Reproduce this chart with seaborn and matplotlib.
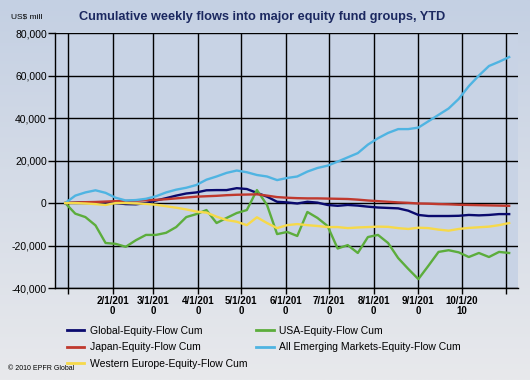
import numpy as np
import pandas as pd
import matplotlib
matplotlib.use('Agg')
import matplotlib.pyplot as plt
from matplotlib.lines import Line2D
from matplotlib.ticker import FuncFormatter
import seaborn as sns

plt.rcParams['font.family'] = ['Liberation Sans', 'DejaVu Sans']

# weekly cumulative flows, US$ mill
weeks = pd.date_range('2009-12-30', periods=45, freq='7D')

global_eq = [0, 200, 300, 200, 200, 0, -500, -600, 0, 1200, 2300, 3500, 4500, 5000, 6000,
             6100, 6100, 7000, 6600, 4800, 3000, 600, 300, -200, 600, 200, -900, -1300, -900,
             -1200, -1700, -2100, -2300, -2500, -3600, -5600, -6100, -6100, -6100, -6000,
             -5600, -5800, -5600, -5200, -5200]
usa_eq = [0, -5000, -6600, -10500, -18800, -19200, -20600, -17500, -15000, -15000, -14000,
          -11300, -6600, -5200, -3300, -9400, -7000, -4700, -3300, 6100, -900, -14600,
          -13600, -15500, -4200, -7000, -10800, -21400, -19800, -23500, -16000, -15000,
          -18800, -25900, -31000, -35800, -29500, -23000, -22200, -23200, -25400, -23500,
          -25400, -23000, -23500]
japan_eq = [0, 200, 400, 500, 700, 900, 1000, 1100, 1300, 1500, 1800, 2200, 2600, 3000,
            3200, 3400, 3700, 3900, 4000, 4100, 3500, 2800, 2500, 2300, 2200, 2200, 2100,
            2000, 1900, 1600, 1200, 900, 600, 300, 100, -200, -300, -500, -600, -800, -900,
            -1000, -1100, -1200, -1300]
em_eq = [0, 3500, 5000, 6000, 4800, 2500, 1200, 1400, 2000, 3200, 5000, 6300, 7200, 8500,
         11000, 12500, 14200, 15300, 14500, 13200, 12500, 10800, 11800, 12500, 14800, 16500,
         17600, 19500, 21500, 23500, 27500, 30500, 33000, 34800, 34800, 35500, 38500, 41500,
         44500, 49000, 55000, 60000, 64500, 66500, 68700]
weurope_eq = [0, 0, -200, -500, -900, 0, 0, -200, -400, -800, -1500, -2200, -3000, -4000,
              -4500, -6400, -8000, -8800, -10400, -6700, -9400, -11800, -10400, -9900, -10400,
              -10800, -11300, -11300, -11800, -11500, -11300, -11100, -11200, -11800, -12200,
              -11600, -11800, -12500, -13000, -12200, -11700, -11400, -11100, -10400, -9400]

series_names = ['Global-Equity-Flow Cum', 'USA-Equity-Flow Cum', 'Japan-Equity-Flow Cum',
                'All Emerging Markets-Equity-Flow Cum', 'Western Europe-Equity-Flow Cum']
series_colors = ['#0a0a6e', '#5cad3c', '#c0392e', '#4fb4e2', '#f6d94a']

month_ticks = pd.date_range('2010-01-01', periods=11, freq='MS')
month_labels = ['', '2/1/201\n0', '3/1/201\n0', '4/1/201\n0', '5/1/201\n0', '6/1/201\n0',
                '7/1/201\n0', '8/1/201\n0', '9/1/201\n0', '10/1/20\n10', '']

wide = pd.DataFrame({'week': weeks, series_names[0]: global_eq, series_names[1]: usa_eq,
                     series_names[2]: japan_eq, series_names[3]: em_eq,
                     series_names[4]: weurope_eq})
long = wide.melt(id_vars='week', var_name='series', value_name='flow')
palette = dict(zip(series_names, series_colors))

fig = plt.figure(figsize=(5.3, 3.8), dpi=100)

# background gradient
bg = fig.add_axes([0, 0, 1, 1], zorder=-1)
grad = np.linspace(0, 1, 256).reshape(-1, 1)
bg.imshow(grad, aspect='auto', extent=[0, 1, 0, 1],
          cmap=matplotlib.colors.LinearSegmentedColormap.from_list('bg', ['#c4d0e3', '#e8e9ec']))
bg.axis('off')

ax = fig.add_axes([0.104, 0.242, 0.873, 0.671])
ax.set_facecolor('#c8d3e5')

sns.lineplot(data=long, x='week', y='flow', hue='series', hue_order=series_names,
             palette=palette, linewidth=1.7, ax=ax, legend=False, zorder=3)

ax.set_xlim(pd.Timestamp('2009-12-23'), pd.Timestamp('2010-11-09'))
ax.set_ylim(-40000, 80000)
ax.set_yticks(range(-40000, 80001, 20000))
ax.yaxis.set_major_formatter(FuncFormatter(lambda v, p: f'{int(v):,}'))
ax.set_xticks(month_ticks)
ax.set_xticklabels(month_labels, fontsize=7, fontweight='bold', linespacing=0.95)
ax.tick_params(axis='y', labelsize=7.5, length=5, width=1, colors='black', pad=1)
ax.tick_params(axis='x', length=4, width=1, pad=2)
ax.grid(True, color='black', linewidth=1)
ax.set_axisbelow(True)
ax.set_xlabel('')
ax.set_ylabel('')
for s in ['top', 'right']:
    ax.spines[s].set_visible(False)
for s in ['left', 'bottom']:
    ax.spines[s].set_color('black')
    ax.spines[s].set_linewidth(1)

fig.text(0.495, 0.955, 'Cumulative weekly flows into major equity fund groups, YTD',
         ha='center', va='center', fontsize=9.2, fontweight='bold', color='#1b2860')
fig.text(0.02, 0.955, 'US$ mill', ha='left', va='center', fontsize=6)
fig.text(0.015, 0.03, '\u00a9 2010 EPFR Global', ha='left', va='center', fontsize=5)

order = [0, 2, 4, 1, 3]
handles = [Line2D([], [], color=series_colors[i], linewidth=2) for i in order]
labels = [series_names[i] for i in order]
fig.legend(handles, labels, ncol=2, loc='upper left', bbox_to_anchor=(0.118, 0.153),
           frameon=False, fontsize=7.5, handlelength=1.7, handletextpad=0.5,
           labelspacing=0.6, columnspacing=0.9, borderaxespad=0)

fig.savefig('out.png', dpi=100)
